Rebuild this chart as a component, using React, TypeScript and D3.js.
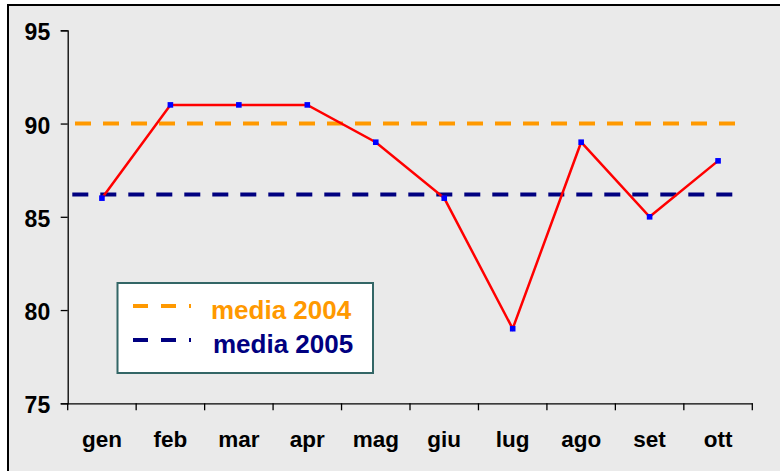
import React, { useEffect, useRef } from "react";
import * as d3 from "d3";

const months = ["gen", "feb", "mar", "apr", "mag", "giu", "lug", "ago", "set", "ott"];
const values2005 = [86, 91, 91, 91, 89, 86, 79, 89, 85, 88];
const media2004 = 90;
const media2005 = 86.2;
const yTicks = [75, 80, 85, 90, 95];
const legendLabels = ["media 2004", "media 2005"];

const W = 780;
const H = 471;
const FONT = "Arial, 'Liberation Sans', sans-serif";

export default function App() {
  const ref = useRef<SVGSVGElement>(null);

  useEffect(() => {
    const svg = d3.select(ref.current);
    svg.selectAll("*").remove();

    const left = 67.7,
      right = 752.3,
      top = 30.3,
      bottom = 403.3;

    const x = d3.scaleBand().domain(months).range([left, right]);
    const y = d3.scaleLinear().domain([75, 95]).range([bottom, top]);
    const cx = (m: string) => (x(m) as number) + x.bandwidth() / 2;

    // background + frame
    svg
      .append("rect")
      .attr("x", 8)
      .attr("y", 5)
      .attr("width", W)
      .attr("height", H)
      .attr("fill", "#eaeaea")
      .attr("stroke", "#000")
      .attr("stroke-width", 2);

    // y axis
    const yAxis = svg
      .append("g")
      .attr("transform", "translate(" + left + ",0)")
      .call(d3.axisLeft(y).tickValues(yTicks).tickSize(7).tickFormat(d3.format("d")));
    yAxis.select(".domain").attr("stroke", "#000").attr("stroke-width", 1.3);
    yAxis.selectAll(".tick line").attr("stroke", "#000").attr("stroke-width", 1.3);
    yAxis
      .selectAll(".tick text")
      .attr("x", -17.5)
      .attr("dy", "0.42em")
      .attr("fill", "#000")
      .style("font", "bold 23px " + FONT);

    // x axis
    const xAxis = svg
      .append("g")
      .attr("transform", "translate(0," + bottom + ")")
      .call(d3.axisBottom(x).tickSize(0).tickSizeOuter(0));
    xAxis.select(".domain").attr("stroke", "#000").attr("stroke-width", 1.3);
    xAxis
      .selectAll(".tick text")
      .attr("y", 43.4)
      .attr("dy", 0)
      .attr("fill", "#000")
      .style("font", "bold 22.5px " + FONT);
    // tick marks between categories
    const edges = months.map((m) => x(m) as number).concat([right]);
    svg
      .append("g")
      .selectAll("line")
      .data(edges)
      .enter()
      .append("line")
      .attr("x1", (d) => d)
      .attr("x2", (d) => d)
      .attr("y1", bottom)
      .attr("y2", bottom + 7)
      .attr("stroke", "#000")
      .attr("stroke-width", 1.3);

    // average lines
    svg
      .append("line")
      .attr("x1", left + 7.3)
      .attr("x2", right - 17)
      .attr("y1", y(media2004))
      .attr("y2", y(media2004))
      .attr("stroke", "#ff9900")
      .attr("stroke-width", 4)
      .attr("stroke-dasharray", "16,12");
    svg
      .append("line")
      .attr("x1", left + 4.6)
      .attr("x2", right - 20)
      .attr("y1", y(media2005))
      .attr("y2", y(media2005))
      .attr("stroke", "#000080")
      .attr("stroke-width", 4)
      .attr("stroke-dasharray", "16,12");

    // data line
    const line = d3
      .line<number>()
      .x((d, i) => cx(months[i]))
      .y((d) => y(d));
    svg
      .append("path")
      .attr("d", line(values2005))
      .attr("fill", "none")
      .attr("stroke", "#ff0000")
      .attr("stroke-width", 2.5);
    svg
      .append("g")
      .selectAll("rect")
      .data(values2005)
      .enter()
      .append("rect")
      .attr("x", (d, i) => cx(months[i]) - 2.8)
      .attr("y", (d) => y(d) - 2.8)
      .attr("width", 5.6)
      .attr("height", 5.6)
      .attr("fill", "#0000ff");

    // legend
    const lg = svg.append("g");
    lg.append("rect")
      .attr("x", 117.5)
      .attr("y", 283)
      .attr("width", 255.5)
      .attr("height", 90)
      .attr("fill", "#fff")
      .attr("stroke", "#336666")
      .attr("stroke-width", 2);
    const legendColors = ["#ff9900", "#000080"];
    legendLabels.forEach((label, i) => {
      const ly = 306 + i * 34;
      lg.append("line")
        .attr("x1", 133)
        .attr("x2", 191)
        .attr("y1", ly)
        .attr("y2", ly)
        .attr("stroke", legendColors[i])
        .attr("stroke-width", 4)
        .attr("stroke-dasharray", "15,13");
      lg.append("text")
        .attr("x", 211 + i * 2)
        .attr("y", 319 + i * 34)
        .attr("fill", legendColors[i])
        .style("font", "bold 26px " + FONT)
        .text(label);
    });
  }, []);

  return (
    <svg
      ref={ref}
      width={W}
      height={H}
      style={{ position: "absolute", left: 0, top: 0, background: "#fff" }}
    />
  );
}
